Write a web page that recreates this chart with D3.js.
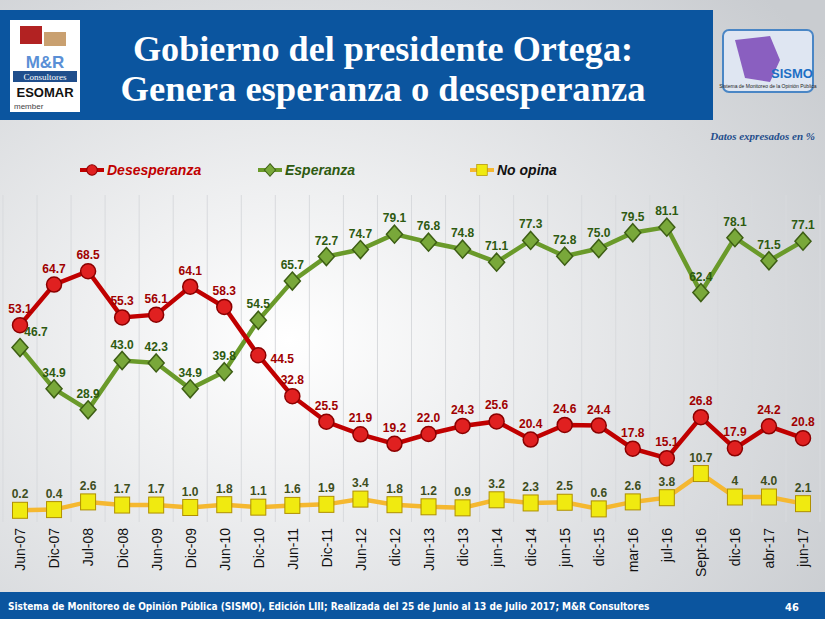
<!DOCTYPE html>
<html><head><meta charset="utf-8">
<script src="https://cdn.jsdelivr.net/npm/d3@7"></script>
<style>body{margin:0;overflow:hidden}</style>
</head><body>
<svg id="c" width="825" height="619"></svg>
<script>
const categories = ["Jun-07","Dic-07","Jul-08","Dic-08","Jun-09","Dic-09","Jun-10","Dic-10","Jun-11","Dic-11","Jun-12","dic-12","Jun-13","dic-13","jun-14","dic-14","jun-15","dic-15","mar-16","jul-16","Sept-16","dic-16","abr-17","jun-17"];
const desesperanza = [53.1,64.7,68.5,55.3,56.1,64.1,58.3,44.5,32.8,25.5,21.9,19.2,22.0,24.3,25.6,20.4,24.6,24.4,17.8,15.1,26.8,17.9,24.2,20.8];
const esperanza = [46.7,34.9,28.9,43.0,42.3,34.9,39.8,54.5,65.7,72.7,74.7,79.1,76.8,74.8,71.1,77.3,72.8,75.0,79.5,81.1,62.4,78.1,71.5,77.1];
const noOpina = [0.2,0.4,2.6,1.7,1.7,1.0,1.8,1.1,1.6,1.9,3.4,1.8,1.2,0.9,3.2,2.3,2.5,0.6,2.6,3.8,10.7,4,4.0,2.1];
const noOpinaLabels = ["0.2","0.4","2.6","1.7","1.7","1.0","1.8","1.1","1.6","1.9","3.4","1.8","1.2","0.9","3.2","2.3","2.5","0.6","2.6","3.8","10.7","4","4.0","2.1"];

const svg = d3.select("#c");
const defs = svg.append("defs");
const bg = defs.append("radialGradient").attr("id","bg").attr("cx","35%").attr("cy","55%").attr("r","80%");
bg.append("stop").attr("offset","0%").attr("stop-color","#ffffff");
bg.append("stop").attr("offset","100%").attr("stop-color","#c9ccd0");
svg.append("rect").attr("width",825).attr("height",619).attr("fill","url(#bg)");

// header
svg.append("rect").attr("x",0).attr("y",10).attr("width",713).attr("height",110).attr("fill","#0b559f");
svg.append("rect").attr("x",10).attr("y",20).attr("width",70).attr("height",92).attr("fill","#fff");
svg.append("rect").attr("x",20).attr("y",26).attr("width",22).attr("height",18).attr("fill","#b22222");
svg.append("rect").attr("x",44).attr("y",32).attr("width",22).attr("height",14).attr("fill","#c9a070");
svg.append("text").attr("x",45).attr("y",68).attr("text-anchor","middle").attr("font-family","Liberation Sans").attr("font-weight","bold").attr("font-size",17).attr("fill","#5a8fd6").text("M&R");
svg.append("rect").attr("x",13).attr("y",71).attr("width",64).attr("height",11).attr("fill","#1f4e8c");
svg.append("text").attr("x",45).attr("y",80).attr("text-anchor","middle").attr("font-family","Liberation Serif").attr("font-size",9).attr("fill","#fff").text("Consultores");
svg.append("text").attr("x",45).attr("y",97).attr("text-anchor","middle").attr("font-family","Liberation Sans").attr("font-weight","bold").attr("font-size",13).attr("fill","#111").text("ESOMAR");
svg.append("text").attr("x",14).attr("y",109).attr("font-family","Liberation Sans").attr("font-size",8).attr("fill","#444").text("member");
const tf = "Liberation Serif";
svg.append("text").attr("x",383).attr("y",61).attr("text-anchor","middle").attr("font-family",tf).attr("font-weight","bold").attr("font-size",36).attr("textLength",500).attr("lengthAdjust","spacingAndGlyphs").attr("fill","#fff").text("Gobierno del presidente Ortega:");
svg.append("text").attr("x",383).attr("y",101).attr("text-anchor","middle").attr("font-family",tf).attr("font-weight","bold").attr("font-size",36).attr("textLength",525).attr("lengthAdjust","spacingAndGlyphs").attr("fill","#fff").text("Genera esperanza o desesperanza");
// SISMO logo
svg.append("rect").attr("x",723).attr("y",30).attr("width",90).attr("height",62).attr("rx",6).attr("fill","#dfe6f2").attr("stroke","#4a86c5").attr("stroke-width",2);
svg.append("path").attr("d","M735 40 L770 36 L780 60 L770 82 L745 78 Z").attr("fill","#8a5fc0");
svg.append("text").attr("x",792).attr("y",78).attr("text-anchor","middle").attr("font-family","Liberation Sans").attr("font-weight","bold").attr("font-size",13).attr("fill","#1d6fc4").text("SISMO");
svg.append("text").attr("x",768).attr("y",88).attr("text-anchor","middle").attr("font-family","Liberation Sans").attr("font-size",5).attr("fill","#222").text("Sistema de Monitoreo de la Opinión Pública");

svg.append("text").attr("x",815).attr("y",140).attr("text-anchor","end").attr("font-family","Liberation Serif").attr("font-style","italic").attr("font-weight","bold").attr("font-size",11).attr("fill","#1f4e8c").text("Datos expresados en  %");

// footer
svg.append("rect").attr("x",0).attr("y",592).attr("width",825).attr("height",27).attr("fill","#0b559f");
svg.append("text").attr("x",8).attr("y",610).attr("font-family","DejaVu Sans Condensed").attr("font-weight","bold").attr("font-size",10).attr("fill","#fff").text("Sistema de Monitoreo de Opinión Pública (SISMO), Edición LIII; Realizada del 25 de Junio al 13 de Julio 2017; M&R Consultores");
svg.append("text").attr("x",792).attr("y",611).attr("text-anchor","middle").attr("font-family","DejaVu Sans Condensed").attr("font-weight","bold").attr("font-size",11).attr("fill","#fff").text("46");

// chart
const x = d3.scalePoint().domain(categories).range([20,803]);
const y = d3.scaleLinear().domain([0,100]).range([511,161]);
const step = x.step();
const g = svg.append("g");
g.selectAll("line.grid").data(d3.range(categories.length+1)).enter().append("line")
  .attr("x1",i=>x(categories[0])-step/2+i*step).attr("x2",i=>x(categories[0])-step/2+i*step)
  .attr("y1",195).attr("y2",522).attr("stroke","#d8dadd").attr("stroke-width",1);

const xAxis = g.append("g").attr("transform","translate(0,522)").call(d3.axisBottom(x).tickSize(0).tickPadding(6));
xAxis.select(".domain").remove();
xAxis.selectAll("text").attr("transform","rotate(-90)").attr("text-anchor","end").attr("dx","-6").attr("dy","0.35em").attr("x",0).attr("y",0)
  .attr("font-family","Liberation Sans").attr("font-size",14).attr("fill","#111");

const series = [
  {name:"Desesperanza", vals:desesperanza, line:"#c00000", fill:"#e02020", stroke:"#8b0000", label:"#a00000", shape:"circle"},
  {name:"Esperanza", vals:esperanza, line:"#6a9a2a", fill:"#79a83a", stroke:"#3d5e14", label:"#2e5a10", shape:"diamond"},
  {name:"No opina", vals:noOpina, line:"#f5b830", fill:"#f0ea10", stroke:"#b09000", label:"#3e4e20", shape:"square"}
];
const line = d3.line().x((d,i)=>x(categories[i])).y(d=>y(d));
function marker(sel, s, cx, cy){
  if (s.shape==="circle") sel.append("circle").attr("cx",cx).attr("cy",cy).attr("r",7.5).attr("fill",s.fill).attr("stroke",s.stroke).attr("stroke-width",1.5);
  else if (s.shape==="diamond") sel.append("path").attr("d",`M${cx} ${cy-9}L${cx+8} ${cy}L${cx} ${cy+9}L${cx-8} ${cy}Z`).attr("fill",s.fill).attr("stroke",s.stroke).attr("stroke-width",1.5);
  else sel.append("rect").attr("x",cx-7.5).attr("y",cy-8).attr("width",15).attr("height",16).attr("fill",s.fill).attr("stroke",s.stroke).attr("stroke-width",1);
}
series.slice().reverse().forEach(s=>{
  g.append("path").datum(s.vals).attr("d",line).attr("fill","none").attr("stroke",s.line).attr("stroke-width",4.5);
  s.vals.forEach((v,i)=>marker(g,s,x(categories[i]),y(v)));
});
// a few labels nudged as in the reference
const dxOff = {"1-0":16, "0-7":24};
const dyOff = {"0-7":20};
series.forEach((s,si)=>{
  g.selectAll(null).data(s.vals).enter().append("text")
    .attr("x",(d,i)=>x(categories[i])+(dxOff[si+"-"+i]||0)).attr("y",(d,i)=>y(d)-12+(dyOff[si+"-"+i]||0))
    .attr("text-anchor","middle").attr("font-family","Liberation Sans").attr("font-weight","bold").attr("font-size",12)
    .attr("fill",s.label).text((d,i)=>si===2?noOpinaLabels[i]:d3.format(".1f")(d));
});

// legend
const legX = [80,258,470];
series.forEach((s,i)=>{
  const lg = svg.append("g");
  lg.append("line").attr("x1",legX[i]).attr("x2",legX[i]+24).attr("y1",170).attr("y2",170).attr("stroke",s.line).attr("stroke-width",4);
  marker(lg,s,legX[i]+12,170);
  lg.selectAll("circle,path,rect").attr("transform",`translate(${legX[i]+12},170) scale(0.7) translate(${-(legX[i]+12)},-170)`);
  lg.append("text").attr("x",legX[i]+27).attr("y",175).attr("font-family","Liberation Sans").attr("font-style","italic").attr("font-weight","bold").attr("font-size",14)
    .attr("fill",i===0?"#c00000":i===1?"#2e5a10":"#111").text(s.name);
});
</script>
</body></html>
